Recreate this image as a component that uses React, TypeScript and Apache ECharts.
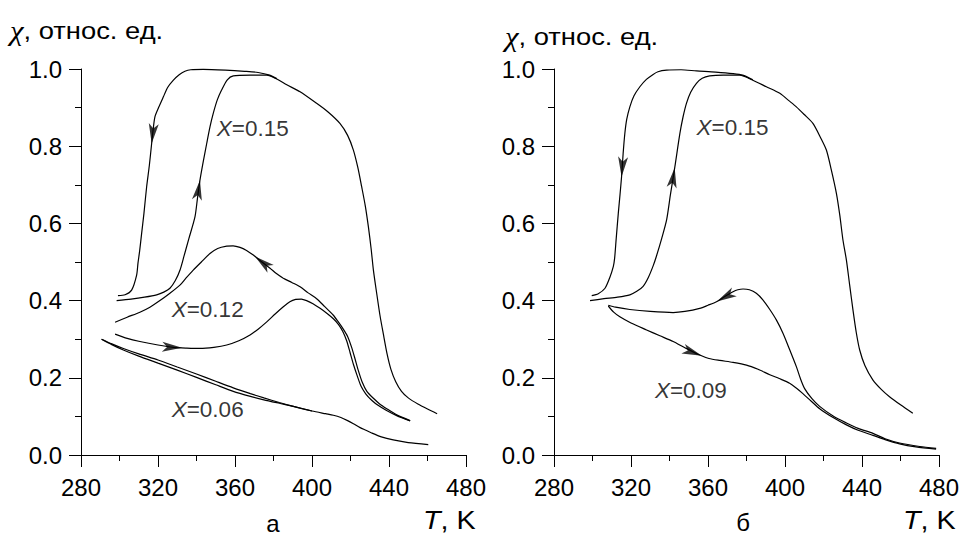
import React, { useEffect, useRef } from "react";
import * as echarts from "echarts";

type P = [number, number];

// ---- axes ----
const xTickValues = [280, 320, 360, 400, 440, 480];
const yTickValues = [0, 0.2, 0.4, 0.6, 0.8, 1.0];

// ---- panel а ----
const a015Heat: P[] = [
  [298.5, 0.4], [306, 0.404], [313, 0.409], [319.3, 0.415], [323, 0.422], [326.2, 0.432], [329, 0.452],
  [331.5, 0.48], [333.5, 0.515], [336, 0.56], [339.2, 0.617], [340.5, 0.665], [341.8, 0.712], [343.5, 0.76],
  [345.3, 0.807], [347, 0.85], [348.7, 0.885], [350.8, 0.92], [353.1, 0.946], [356, 0.972], [359.1, 0.982],
  [368, 0.984], [376.5, 0.984], [381.7, 0.974], [386.9, 0.959], [393.8, 0.941], [402.4, 0.911], [408.5, 0.888],
  [414.5, 0.859], [418.5, 0.828], [421.5, 0.79], [423.8, 0.745], [425.8, 0.695], [427.7, 0.645], [429.3, 0.591],
  [430.7, 0.535], [431.9, 0.479], [433.6, 0.419], [435.3, 0.362], [437, 0.315], [439, 0.262], [441, 0.222],
  [443.5, 0.19], [446.5, 0.165], [450, 0.148], [455, 0.132], [460, 0.119], [465, 0.107],
];
const a015Cool: P[] = [
  [381.7, 0.975], [378, 0.984], [372, 0.991], [365, 0.994], [355, 0.997], [343.5, 0.999], [337, 0.998],
  [334, 0.994], [331, 0.985], [328, 0.971], [325, 0.952], [322.8, 0.928], [320.3, 0.9], [318.4, 0.876],
  [317.4, 0.84], [316.7, 0.807], [315.5, 0.75], [314.1, 0.695], [312.7, 0.626], [311.5, 0.574], [310.5, 0.53],
  [309.6, 0.497], [308.9, 0.466], [306.3, 0.427], [302.9, 0.415], [299.2, 0.413],
];
const a012Cool: P[] = [
  [451, 0.089], [444, 0.104], [438.8, 0.12], [435, 0.133], [431.9, 0.147], [428.5, 0.165], [426, 0.19],
  [424, 0.22], [422.3, 0.25], [420.5, 0.28], [418.5, 0.307], [416, 0.328], [413.5, 0.346], [411.1, 0.362],
  [406.5, 0.385], [402.4, 0.405], [398, 0.42], [393.8, 0.436], [389.5, 0.447], [385.1, 0.458], [381.5, 0.47],
  [378.2, 0.484], [374, 0.5], [369.5, 0.518], [366, 0.53], [362.6, 0.538], [359, 0.542], [355.7, 0.541],
  [351, 0.535], [347, 0.522], [342.5, 0.5], [338.3, 0.479], [334.5, 0.458], [331.4, 0.44], [326.2, 0.419],
  [321, 0.4], [315.8, 0.383], [310.6, 0.37], [304, 0.357], [297.7, 0.344],
];
const a012Heat: P[] = [
  [297.7, 0.313], [304, 0.302], [310.6, 0.294], [320, 0.285], [328, 0.279], [335, 0.277], [341.8, 0.276],
  [349, 0.279], [355.7, 0.285], [362, 0.296], [367.8, 0.311], [372, 0.326], [376.5, 0.345], [381, 0.366],
  [385.1, 0.384], [388.5, 0.397], [391.5, 0.403], [394.5, 0.404], [397.2, 0.4], [400.5, 0.392], [404.2, 0.38],
  [408, 0.366], [411.1, 0.353], [413.8, 0.338], [416, 0.32], [418, 0.296], [419.8, 0.265], [421.5, 0.235],
  [423.5, 0.205], [425.5, 0.178], [428, 0.158], [431, 0.142], [434.5, 0.128], [438.5, 0.116], [444, 0.102],
  [451, 0.088],
];
const a006Upper: P[] = [
  [290.7, 0.3], [296, 0.288], [302, 0.276], [310, 0.262], [320, 0.246], [330, 0.228], [340, 0.21], [350, 0.191],
  [359.1, 0.174], [368, 0.159], [375, 0.148], [383, 0.136], [390.3, 0.126], [400, 0.114], [407, 0.107],
  [411.1, 0.103], [415, 0.097], [418.5, 0.089], [421.5, 0.081], [425, 0.071], [428, 0.064], [431, 0.057],
  [436, 0.047], [442.2, 0.039], [450, 0.032], [460.4, 0.027],
];
const a006Lower: P[] = [
  [290.7, 0.3], [296, 0.286], [302, 0.272], [310, 0.256], [320, 0.238], [330, 0.22], [340, 0.201], [350, 0.182],
  [359.1, 0.165], [368, 0.152], [375, 0.143], [383, 0.134], [390.3, 0.126], [400, 0.114],
];

// ---- panel б ----
const b015Heat: P[] = [
  [298.7, 0.4], [306, 0.405], [313, 0.409], [319.4, 0.415], [323, 0.424], [326.3, 0.437], [329, 0.46],
  [331.5, 0.49], [333.2, 0.515], [336, 0.562], [338.5, 0.609], [340.5, 0.675], [342.8, 0.747], [345.4, 0.833],
  [347, 0.875], [348.8, 0.911], [351, 0.94], [354, 0.963], [357, 0.976], [360.9, 0.982], [368, 0.984],
  [376.5, 0.984], [383.3, 0.971], [390.3, 0.954], [397.3, 0.937], [402, 0.918], [405.9, 0.902], [410, 0.882],
  [414.5, 0.859], [418.5, 0.822], [421.5, 0.79], [424, 0.74], [426.7, 0.678], [428.5, 0.62], [430.1, 0.557],
  [431.9, 0.505], [433.6, 0.44], [435.3, 0.376], [437, 0.318], [438.8, 0.272], [441.5, 0.232], [445.7, 0.194],
  [450, 0.17], [454.3, 0.151], [460, 0.13], [466.4, 0.108],
];
const b015Cool: P[] = [
  [383.3, 0.972], [378, 0.984], [373, 0.988], [364, 0.992], [354, 0.995], [346, 0.998], [338.5, 0.997],
  [334, 0.993], [331.5, 0.986], [328, 0.973], [324.6, 0.954], [321.5, 0.93], [319.4, 0.902], [317.8, 0.87],
  [316.8, 0.833], [315.9, 0.78], [315.1, 0.721], [314.3, 0.675], [313.4, 0.626], [312.3, 0.56], [311.5, 0.51],
  [310.8, 0.488], [309, 0.46], [306.5, 0.432], [303, 0.418], [299.6, 0.413],
];
const b009Cool: P[] = [
  [478.5, 0.017], [470, 0.022], [459.5, 0.031], [452, 0.042], [445.7, 0.056], [438, 0.069], [431.9, 0.083],
  [425, 0.101], [418, 0.126], [414, 0.146], [410.2, 0.172], [408, 0.198], [405.9, 0.229], [402.5, 0.272],
  [399, 0.315], [395.5, 0.35], [392.1, 0.377], [388.5, 0.402], [385.1, 0.419], [381.5, 0.428], [378.2, 0.43],
  [375.5, 0.428], [373, 0.423], [368.5, 0.41], [364.4, 0.397], [360, 0.388], [355.7, 0.38], [348, 0.372],
  [341.9, 0.369], [330, 0.372], [319.4, 0.377], [312, 0.383], [308.2, 0.388],
];
const b009Heat: P[] = [
  [308.2, 0.386], [311, 0.37], [314.2, 0.358], [320, 0.342], [328.1, 0.324], [335, 0.309], [341.9, 0.294],
  [348, 0.278], [355.7, 0.259], [360.5, 0.25], [366.1, 0.245], [373, 0.24], [380, 0.233], [386, 0.222],
  [392.1, 0.208], [397, 0.198], [402.4, 0.186], [406, 0.173], [409.3, 0.159], [413.5, 0.14], [418, 0.12],
  [425, 0.097], [431.9, 0.078], [438, 0.064], [445.7, 0.051], [452, 0.04], [459.5, 0.029], [468, 0.021],
  [478.5, 0.015],
];

// curves per panel
const curvesA = [a015Heat, a015Cool, a012Cool, a012Heat, a006Upper, a006Lower];
const curvesB = [b015Heat, b015Cool, b009Cool, b009Heat];

// arrow markers: curve + temperature at which the arrowhead sits (points along data order)
const arrowsA: { curve: P[]; at: number }[] = [
  { curve: a015Cool, at: 316.7 },
  { curve: a015Heat, at: 341.8 },
  { curve: a012Cool, at: 370.4 },
  { curve: a012Heat, at: 332.5 },
];
const arrowsB: { curve: P[]; at: number }[] = [
  { curve: b015Cool, at: 315.1 },
  { curve: b015Heat, at: 342.7 },
  { curve: b009Cool, at: 364.6 },
  { curve: b009Heat, at: 356.8 },
];

// curve labels (X value, anchor in data units)
const labelsA: { x: string; at: P }[] = [
  { x: "0.15", at: [350.5, 0.847] },
  { x: "0.12", at: [327.1, 0.378] },
  { x: "0.06", at: [327.1, 0.117] },
];
const labelsB: { x: string; at: P }[] = [
  { x: "0.15", at: [354, 0.848] },
  { x: "0.09", at: [332.4, 0.168] },
];

const yTitle = "относ. ед.";
const panelNames = ["а", "б"];

const FONT = "'Liberation Sans', Arial, sans-serif";
const SERIF = "'Liberation Serif', 'Times New Roman', serif";

function interp(data: P[], t: number): number {
  for (let i = 0; i < data.length - 1; i++) {
    const [x0, y0] = data[i];
    const [x1, y1] = data[i + 1];
    if ((t >= x0 && t <= x1) || (t <= x0 && t >= x1)) {
      if (x1 === x0) return y0;
      return y0 + ((t - x0) / (x1 - x0)) * (y1 - y0);
    }
  }
  return data[data.length - 1][1];
}

function dirSign(data: P[], t: number): number {
  for (let i = 0; i < data.length - 1; i++) {
    const x0 = data[i][0];
    const x1 = data[i + 1][0];
    if ((t >= x0 && t <= x1) || (t <= x0 && t >= x1)) return x1 >= x0 ? 1 : -1;
  }
  return 1;
}

export default function App() {
  const ref = useRef<HTMLDivElement>(null);
  useEffect(() => {
    document.body.style.margin = "0";
    const chart = echarts.init(ref.current!, null, { renderer: "svg" });

    const grids = [
      { left: 81, top: 69, width: 385, height: 386, outerBoundsMode: "none", containLabel: false },
      { left: 554, top: 69, width: 385, height: 386, outerBoundsMode: "none", containLabel: false },
    ];
    const mkX = (gi: number) => ({
      type: "value",
      gridIndex: gi,
      min: xTickValues[0],
      max: xTickValues[xTickValues.length - 1],
      interval: xTickValues[1] - xTickValues[0],
      axisLine: { show: true, onZero: false, lineStyle: { color: "#000", width: 1 } },
      axisTick: { show: true, inside: false, length: 12, lineStyle: { color: "#000", width: 1 } },
      minorTick: { show: true, splitNumber: 2, length: 6, lineStyle: { color: "#000", width: 1 } },
      splitLine: { show: false },
      minorSplitLine: { show: false },
      axisLabel: { show: true, color: "#000", fontSize: 24, fontFamily: FONT, margin: 20 },
    });
    const mkY = (gi: number) => ({
      type: "value",
      gridIndex: gi,
      min: yTickValues[0],
      max: yTickValues[yTickValues.length - 1],
      interval: yTickValues[1] - yTickValues[0],
      axisLine: { show: true, onZero: false, lineStyle: { color: "#000", width: 1 } },
      axisTick: { show: true, inside: false, length: 12, lineStyle: { color: "#000", width: 1 } },
      minorTick: { show: true, splitNumber: 2, length: 6, lineStyle: { color: "#000", width: 1 } },
      splitLine: { show: false },
      minorSplitLine: { show: false },
      axisLabel: {
        show: true,
        color: "#000",
        fontSize: 24,
        fontFamily: FONT,
        margin: 19,
        formatter: (v: number) => v.toFixed(1),
      },
    });

    const lineSeries = (curves: P[][], gi: number) =>
      curves.map((c) => ({
        type: "line",
        xAxisIndex: gi,
        yAxisIndex: gi,
        data: c,
        showSymbol: false,
        symbol: "none",
        smooth: 0.25,
        clip: false,
        silent: true,
        lineStyle: { color: "#000", width: 1.2 },
        z: 2,
      }));

    const labelSeries = (labels: { x: string; at: P }[], gi: number) => ({
      type: "scatter",
      xAxisIndex: gi,
      yAxisIndex: gi,
      symbolSize: 0.1,
      silent: true,
      itemStyle: { color: "rgba(0,0,0,0)" },
      data: labels.map((l) => ({ value: l.at, name: l.x })),
      label: {
        show: true,
        position: "right",
        distance: 0,
        formatter: (p: any) => `{i|X}{n|=${p.name}}`,
        rich: {
          i: { fontFamily: FONT, fontStyle: "italic", fontSize: 22.5, color: "#000" },
          n: { fontFamily: FONT, fontSize: 22.5, color: "#000" },
        },
      },
      z: 5,
    });

    const titleRich = {
      c: { fontFamily: SERIF, fontStyle: "italic", fontSize: 27, fill: "#000", color: "#000" },
      n: { fontFamily: FONT, fontSize: 24, fill: "#000", color: "#000" },
      t: { fontFamily: FONT, fontStyle: "italic", fontSize: 25, fill: "#000", color: "#000" },
      k: { fontFamily: FONT, fontSize: 25, fill: "#000", color: "#000" },
    };
    const txt = (x: number, y: number, text: string, sx: number) => ({
      type: "text",
      x,
      y,
      scaleX: sx,
      style: { text, rich: titleRich, verticalAlign: "middle", textVerticalAlign: "middle", fill: "#000" },
    });
    const graphic = [
      txt(10, 31, `{c|χ}{n|, ${yTitle}}`, 1.14),
      txt(505, 37, `{c|χ}{n|, ${yTitle}}`, 1.14),
      txt(423, 521, `{t|T}{k|, K}`, 1.15),
      txt(903, 521, `{t|T}{k|, K}`, 1.15),
      { type: "text", x: 273, y: 523, style: { text: panelNames[0], font: `24px ${FONT}`, fontSize: 24, fontFamily: FONT, align: "center", textAlign: "center", verticalAlign: "middle", textVerticalAlign: "middle", fill: "#000" } },
      { type: "text", x: 743, y: 522, style: { text: panelNames[1], font: `24px ${FONT}`, fontSize: 24, fontFamily: FONT, align: "center", textAlign: "center", verticalAlign: "middle", textVerticalAlign: "middle", fill: "#000" } },
    ];

    const baseSeries: any[] = [
      ...lineSeries(curvesA, 0),
      ...lineSeries(curvesB, 1),
      labelSeries(labelsA, 0),
      labelSeries(labelsB, 1),
    ];

    chart.setOption({
      animation: false,
      backgroundColor: "#fff",
      grid: grids,
      xAxis: [mkX(0), mkX(1)],
      yAxis: [mkY(0), mkY(1)],
      series: baseSeries,
      graphic,
    } as any);

    const arrowSeries = (arrows: { curve: P[]; at: number }[], gi: number) => ({
      type: "scatter",
      xAxisIndex: gi,
      yAxisIndex: gi,
      symbol: "arrow",
      symbolSize: [7.5, 20],
      silent: true,
      itemStyle: { color: "#000" },
      z: 4,
      data: arrows.map((a) => {
        const y = interp(a.curve, a.at);
        const s = dirSign(a.curve, a.at);
        const d = 0.8;
        const p1 = chart.convertToPixel({ gridIndex: gi } as any, [a.at - d * s, interp(a.curve, a.at - d * s)]) as number[];
        const p2 = chart.convertToPixel({ gridIndex: gi } as any, [a.at + d * s, interp(a.curve, a.at + d * s)]) as number[];
        const dx = p2[0] - p1[0];
        const dy = p2[1] - p1[1];
        const rot = (Math.atan2(-dx, -dy) * 180) / Math.PI;
        return { value: [a.at, y], symbolRotate: rot };
      }),
    });

    chart.setOption({
      series: [...baseSeries, arrowSeries(arrowsA, 0), arrowSeries(arrowsB, 1)],
    } as any);

    return () => chart.dispose();
  }, []);
  return <div ref={ref} style={{ width: 961, height: 536 }} />;
}
